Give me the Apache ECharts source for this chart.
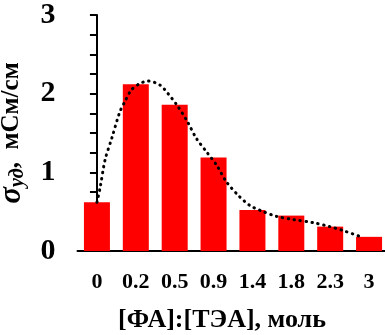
<!DOCTYPE html>
<html><head><meta charset="utf-8">
<script src="https://cdn.jsdelivr.net/npm/echarts@6/dist/echarts.min.js"></script>
<style>html,body{margin:0;padding:0;background:#fff}#c{width:385px;height:335px}</style>
</head><body><div id="c"></div>
<script>
const categories = ['0','0.2','0.5','0.9','1.4','1.8','2.3','3'];
const barValues = [0.62, 2.12, 1.86, 1.19, 0.52, 0.45, 0.31, 0.18];
const trendX = [0, 0.08, 0.21, 0.38, 0.59, 0.72, 0.89, 1.11, 1.32, 1.62, 1.83, 2.05, 2.31, 2.56, 2.82, 3.08, 3.33, 3.63, 3.93, 4.23, 4.62, 5.05, 5.57, 5.99, 6.33, 6.80];
const trendY = [0.62, 0.80, 1.16, 1.43, 1.77, 1.90, 2.05, 2.13, 2.16, 2.11, 2.00, 1.86, 1.66, 1.43, 1.26, 1.09, 0.88, 0.71, 0.58, 0.51, 0.44, 0.40, 0.36, 0.31, 0.26, 0.18];
const yTicks = [0, 1, 2, 3];

const font = '"Liberation Serif", "Times New Roman", serif';
const chart = echarts.init(document.getElementById('c'), null, {renderer: 'canvas'});
chart.setOption({
  animation: false,
  grid: {left: 77.5, right: -3.5, top: 15, bottom: 84, containLabel: false, outerBoundsMode: 'none'},
  xAxis: [{
    type: 'category', data: categories,
    axisLine: {lineStyle: {color: '#000', width: 2}},
    axisTick: {show: false},
    axisLabel: {color: '#000', fontFamily: font, fontWeight: 'bold', fontSize: 22, margin: 20},
    name: '[ФА]:[ТЭА], моль', nameLocation: 'middle', nameGap: 56,
    nameTextStyle: {color: '#000', fontFamily: font, fontWeight: 'bold', fontSize: 26, padding: [0, 22, 0, 0]}
  }, {
    type: 'value', min: -0.5, max: 7.5, show: false
  }],
  yAxis: {
    type: 'value', min: 0, max: 3, interval: 0.25,
    axisLine: {show: true, lineStyle: {color: '#000', width: 2}},
    axisTick: {show: true, length: 7, lineStyle: {color: '#000', width: 2}},
    splitLine: {show: false},
    axisLabel: {color: '#000', fontFamily: font, fontWeight: 'bold', fontSize: 30, margin: 22,
      formatter: v => yTicks.includes(v) ? String(v) : ''},
    name: '{s|σ}{sub|уд}{t|,  мСм/см}', nameLocation: 'middle', nameGap: 50, nameRotate: 90,
    nameTextStyle: {color: '#000', fontFamily: font, fontWeight: 'bold', fontSize: 25,
      rich: {
        s: {fontFamily: font, fontStyle: 'italic', fontWeight: 'bold', fontSize: 31, color: '#000'},
        sub: {fontFamily: font, fontStyle: 'italic', fontWeight: 'bold', fontSize: 20, color: '#000', verticalAlign: 'bottom', padding: [10, 0, 0, 0]},
        t: {fontFamily: font, fontWeight: 'bold', fontSize: 25, color: '#000'}
      }}
  },
  series: [{
    type: 'bar', data: barValues, xAxisIndex: 0, barWidth: 26,
    itemStyle: {color: '#ff0000'}
  }, {
    type: 'line', xAxisIndex: 1, smooth: 0.3, symbol: 'none',
    data: trendX.map((x, i) => [x, trendY[i]]),
    lineStyle: {color: '#000', width: 3, type: [0.5, 5.5], cap: 'round'},
    z: 5
  }]
});
</script></body></html>
